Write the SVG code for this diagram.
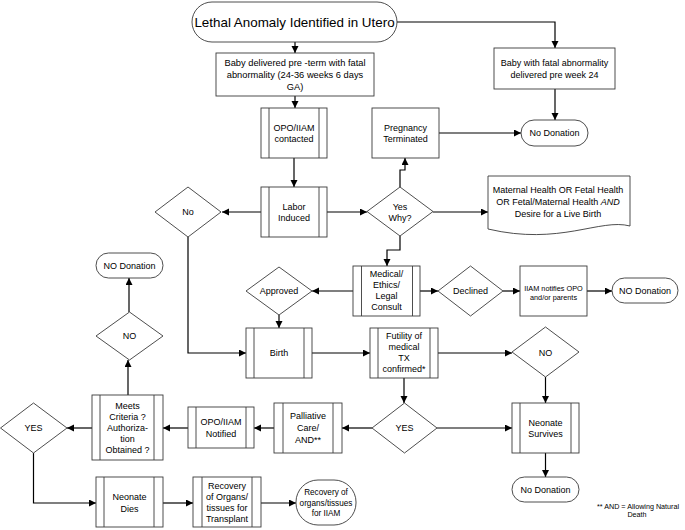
<svg xmlns="http://www.w3.org/2000/svg" width="685" height="530" viewBox="0 0 685 530">
<defs>
<marker id="ah" markerUnits="userSpaceOnUse" markerWidth="8" markerHeight="8" refX="7" refY="3.5" orient="auto">
<path d="M0,0 L7,3.5 L0,7 z" fill="#000"/>
</marker>
<style>
.s{fill:#fff;stroke:#3a3a3a;stroke-width:0.9}
.l{fill:none;stroke:#3a3a3a;stroke-width:0.9}
.c{fill:none;stroke:#000;stroke-width:1.2;marker-end:url(#ah)}
text{font-family:"Liberation Sans",Arial,sans-serif;font-size:9px;fill:#000;text-anchor:middle}
.t{font-size:13.4px}
.sm{font-size:7.3px}
.fn{font-size:7.2px}
.rt{font-size:8.2px}
</style>
</defs>
<rect width="685" height="530" fill="#fff"/>

<g id="connectors">
<path class="c" d="M295,42 V53"/>
<path class="c" d="M397,22 H555 V48"/>
<path class="c" d="M555,89 V120"/>
<path class="c" d="M295,96 V108"/>
<path class="c" d="M439,133 H521"/>
<path class="c" d="M294,158 V187"/>
<path class="c" d="M261,212 H222"/>
<path class="c" d="M327,212 H367"/>
<path class="c" d="M433,212 H488"/>
<path class="c" d="M400,187 V170 H405 V158"/>
<path class="c" d="M400,236 V250 H387 V266"/>
<path class="c" d="M188,237 V353 H246"/>
<path class="c" d="M353,291 H312"/>
<path class="c" d="M420,291 H438"/>
<path class="c" d="M503,291 H520"/>
<path class="c" d="M587,291 H612"/>
<path class="c" d="M279,315 V328"/>
<path class="c" d="M129,312 V278"/>
<path class="c" d="M128,395 V360"/>
<path class="c" d="M312,353 H370"/>
<path class="c" d="M438,353 H512"/>
<path class="c" d="M545.5,377 V403"/>
<path class="c" d="M404,378 V403"/>
<path class="c" d="M372,428 H342"/>
<path class="c" d="M437,428 H512"/>
<path class="c" d="M545.5,453 V477"/>
<path class="c" d="M274,428 H254"/>
<path class="c" d="M188,428 H163"/>
<path class="c" d="M92,428 H67"/>
<path class="c" d="M33.5,453 V503 H96"/>
<path class="c" d="M163,503 H193"/>
<path class="c" d="M261,503 H296"/>
</g>

<g id="start">
<rect class="s" x="192" y="2" width="205" height="40" rx="20"/>
<text class="t" x="294.5" y="26.8">Lethal Anomaly Identified in Utero</text>
</g>

<g id="preterm">
<rect class="s" x="216" y="53" width="158" height="43"/>
<text x="295" y="66.3" style="font-size:9.3px">Baby delivered pre -term with fatal</text>
<text x="295" y="78.3" style="font-size:9.3px">abnormality (24-36 weeks 6 days</text>
<text x="295" y="90.3" style="font-size:9.3px">GA)</text>
</g>

<g id="preweek24">
<rect class="s" x="494" y="48" width="121" height="41"/>
<text x="554.5" y="66.2">Baby with fatal abnormality</text>
<text x="554.5" y="78.2">delivered pre week  24</text>
</g>

<g id="nodonation1">
<rect class="s" x="521" y="120" width="67" height="26" rx="13"/>
<text x="554.5" y="136.2">No Donation</text>
</g>

<g id="opocontacted">
<rect class="s" x="261" y="108" width="66" height="50"/>
<line class="l" x1="269" y1="108" x2="269" y2="158"/>
<line class="l" x1="319" y1="108" x2="319" y2="158"/>
<text x="294" y="130.7">OPO/IIAM</text>
<text x="294" y="141.7">contacted</text>
</g>

<g id="terminated">
<rect class="s" x="372" y="108" width="67" height="50"/>
<text x="405.5" y="130.7">Pregnancy</text>
<text x="405.5" y="141.7">Terminated</text>
</g>

<g id="labor">
<rect class="s" x="261" y="187" width="66" height="50"/>
<line class="l" x1="269" y1="187" x2="269" y2="237"/>
<line class="l" x1="319" y1="187" x2="319" y2="237"/>
<text x="294" y="209.7">Labor</text>
<text x="294" y="220.7">Induced</text>
</g>

<g id="no1">
<path class="s" d="M188,187 L221,212 L188,237 L155,212 Z"/>
<text x="188" y="215.2">No</text>
</g>

<g id="yeswhy">
<path class="s" d="M400,187 L433,211.5 L400,236 L367,211.5 Z"/>
<text x="400" y="210.3">Yes</text>
<text x="400" y="220.8">Why?</text>
</g>

<g id="reasons">
<path class="s" d="M488,176 H630 V226 C600,218 560,246 488,229 Z"/>
<text x="558" y="192.7">Maternal Health OR Fetal Health</text>
<text x="558" y="204.7">OR Fetal/Maternal Health <tspan font-style="italic">AND</tspan></text>
<text x="558" y="216.7">Desire for a Live Birth</text>
</g>

<g id="nodonation2">
<rect class="s" x="96" y="253" width="67" height="25" rx="12.5"/>
<text x="129.5" y="268.7">NO Donation</text>
</g>

<g id="approved">
<path class="s" d="M279,267 L312,291 L279,315 L246,291 Z"/>
<text x="279" y="294.2">Approved</text>
</g>

<g id="consult">
<rect class="s" x="353" y="266" width="67" height="50"/>
<line class="l" x1="361.5" y1="266" x2="361.5" y2="316"/>
<line class="l" x1="412.5" y1="266" x2="412.5" y2="316"/>
<text x="386.5" y="277.4">Medical/</text>
<text x="386.5" y="288.4">Ethics/</text>
<text x="386.5" y="299.4">Legal</text>
<text x="386.5" y="310.4">Consult</text>
</g>

<g id="declined">
<path class="s" d="M470.5,266 L503,291 L470.5,316 L438,291 Z"/>
<text x="470.5" y="294.2">Declined</text>
</g>

<g id="iiamnotifies">
<rect class="s" x="520" y="266" width="67" height="50"/>
<text class="sm" x="553.5" y="290.8">IIAM notifies OPO</text>
<text class="sm" x="553.5" y="300.1">and/or parents</text>
</g>

<g id="nodonation3">
<rect class="s" x="612" y="278" width="66" height="25" rx="12.5"/>
<text x="645" y="293.7">NO Donation</text>
</g>

<g id="no2">
<path class="s" d="M129.5,312 L163,336 L129.5,360 L96,336 Z"/>
<text x="129.5" y="339.2">NO</text>
</g>

<g id="birth">
<rect class="s" x="246" y="328" width="66" height="50"/>
<line class="l" x1="254" y1="328" x2="254" y2="378"/>
<line class="l" x1="304" y1="328" x2="304" y2="378"/>
<text x="279" y="356.2">Birth</text>
</g>

<g id="futility">
<rect class="s" x="370" y="328" width="68" height="50"/>
<line class="l" x1="378" y1="328" x2="378" y2="378"/>
<line class="l" x1="430" y1="328" x2="430" y2="378"/>
<text x="404" y="338.5">Futility of</text>
<text x="404" y="349.7">medical</text>
<text x="404" y="360.7">TX</text>
<text x="404" y="371.8">confirmed*</text>
</g>

<g id="no3">
<path class="s" d="M545.5,327 L579,352 L545.5,377 L512,352 Z"/>
<text x="545.5" y="356">NO</text>
</g>

<g id="survives">
<rect class="s" x="512" y="403" width="67" height="50"/>
<line class="l" x1="520" y1="403" x2="520" y2="453"/>
<line class="l" x1="571" y1="403" x2="571" y2="453"/>
<text x="545.5" y="425.5">Neonate</text>
<text x="545.5" y="436.5">Survives</text>
</g>

<g id="yes1">
<path class="s" d="M404.5,403 L437,428 L404.5,453 L372,428 Z"/>
<text x="404.5" y="430.8">YES</text>
</g>

<g id="nodonation4">
<rect class="s" x="512" y="477" width="67" height="25" rx="12.5"/>
<text x="545.5" y="492.7">No Donation</text>
</g>

<g id="palliative">
<rect class="s" x="274" y="403" width="68" height="50"/>
<line class="l" x1="283" y1="403" x2="283" y2="453"/>
<line class="l" x1="333" y1="403" x2="333" y2="453"/>
<text x="308" y="419.4">Palliative</text>
<text x="308" y="431.4">Care/</text>
<text x="308" y="443.2">AND**</text>
</g>

<g id="oponotified">
<rect class="s" x="188" y="407" width="66" height="41"/>
<line class="l" x1="196" y1="407" x2="196" y2="448"/>
<line class="l" x1="246" y1="407" x2="246" y2="448"/>
<text x="221" y="425">OPO/IIAM</text>
<text x="221" y="436.5">Notified</text>
</g>

<g id="criteria">
<rect class="s" x="92" y="395" width="71" height="65"/>
<line class="l" x1="100" y1="395" x2="100" y2="460"/>
<line class="l" x1="154" y1="395" x2="154" y2="460"/>
<text x="127.5" y="409">Meets</text>
<text x="127.5" y="420">Criteria ?</text>
<text x="127.5" y="431">Authoriza-</text>
<text x="127.5" y="442">tion</text>
<text x="127.5" y="453">Obtained ?</text>
</g>

<g id="yes2">
<path class="s" d="M33.5,403 L67,428 L33.5,453 L0.5,428 Z"/>
<text x="33.5" y="430.8">YES</text>
</g>

<g id="dies">
<rect class="s" x="96" y="477" width="67" height="50"/>
<line class="l" x1="104" y1="477" x2="104" y2="527"/>
<line class="l" x1="154" y1="477" x2="154" y2="527"/>
<text x="129.5" y="500">Neonate</text>
<text x="129.5" y="511.5">Dies</text>
</g>

<g id="recovery">
<rect class="s" x="193" y="477" width="68" height="50"/>
<line class="l" x1="202" y1="477" x2="202" y2="527"/>
<line class="l" x1="252" y1="477" x2="252" y2="527"/>
<text x="227" y="489.2">Recovery</text>
<text x="227" y="500">of Organs/</text>
<text x="227" y="511.3">tissues for</text>
<text x="227" y="522.2">Transplant</text>
</g>

<g id="recoveryiiam">
<rect class="s" x="296" y="480" width="60" height="45" rx="22"/>
<text class="rt" x="326" y="494.8">Recovery of</text>
<text class="rt" x="326" y="505.6">organs/tissues</text>
<text class="rt" x="326" y="516.3">for IIAM</text>
</g>

<g id="footnote">
<text class="fn" x="597" y="508.5" style="text-anchor:start">** AND = Allowing Natural</text>
<text class="fn" x="637" y="516.8">Death</text>
</g>
</svg>
